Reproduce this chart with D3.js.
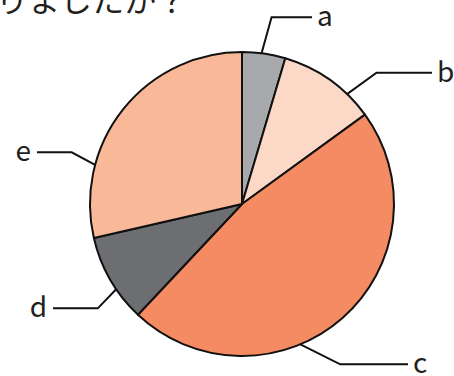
<!DOCTYPE html>
<html>
<head>
<meta charset="utf-8">
<script src="https://cdn.jsdelivr.net/npm/d3@7"></script>
<style>
  html, body { margin: 0; padding: 0; background: #fff; }
  svg { display: block; }
  text { font-family: "Noto Sans CJK JP", "Noto Sans", sans-serif; fill: #231f20; }
</style>
</head>
<body>
<svg id="chart"></svg>
<script>
const categories = ["a", "b", "c", "d", "e"];
const values = [4.6, 10.4, 47.0, 9.4, 28.6];
const colors = ["#a7a9ac", "#fcd9c6", "#f58b63", "#6d6e71", "#f9b998"];
const titleText = "どうなりましたか？";

// where each leader line leaves the pie (degrees clockwise from top), elbow and end
const labelLayout = [
  { anchor: 7.4,   elbowAngle: 9.0,   elbowR: 189, lineEnd: 312 },
  { anchor: 43.7,  elbowAngle: 45.7,  elbowR: 188, lineEnd: 432 },
  { anchor: 157.4, elbowAngle: 148.5, elbowR: 188, lineEnd: 408 },
  { anchor: 235.9, elbowAngle: 234.1, elbowR: 178, lineEnd: 53 },
  { anchor: 284.9, elbowAngle: 286.9, elbowR: 178, lineEnd: 37 }
];

const width = 454;
const height = 376;
const cx = 242, cy = 204, radius = 152;

const svg = d3.select("#chart")
    .attr("width", width)
    .attr("height", height);

svg.append("text")
    .attr("x", 188)
    .attr("y", 12)
    .attr("text-anchor", "end")
    .style("font-size", "32px")
    .text(titleText);

const pie = d3.pie().sort(null).value(d => d);
const arc = d3.arc().innerRadius(0).outerRadius(radius);
const arcs = pie(values);

const g = svg.append("g").attr("transform", `translate(${cx},${cy})`);

g.selectAll("path")
    .data(arcs)
    .join("path")
    .attr("d", arc)
    .attr("fill", (d, i) => colors[i])
    .attr("stroke", "#111")
    .attr("stroke-width", 2)
    .attr("stroke-linejoin", "round");

const toXY = (deg, r) => {
    const a = deg * Math.PI / 180;
    return [r * Math.sin(a), -r * Math.cos(a)];
};

const line = d3.line();

labelLayout.forEach((l, i) => {
    const p0 = toXY(l.anchor, radius);
    const p1 = toXY(l.elbowAngle, l.elbowR);
    const p2 = [l.lineEnd - cx, p1[1]];
    g.append("path")
        .attr("d", line([p0, p1, p2]))
        .attr("fill", "none")
        .attr("stroke", "#111")
        .attr("stroke-width", 2);

    const right = p2[0] > p1[0];
    g.append("text")
        .attr("x", p2[0] + (right ? 5 : -6))
        .attr("y", p2[1] + 9)
        .attr("text-anchor", right ? "start" : "end")
        .style("font-size", "28px")
        .text(categories[i]);
});
</script>
</body>
</html>
